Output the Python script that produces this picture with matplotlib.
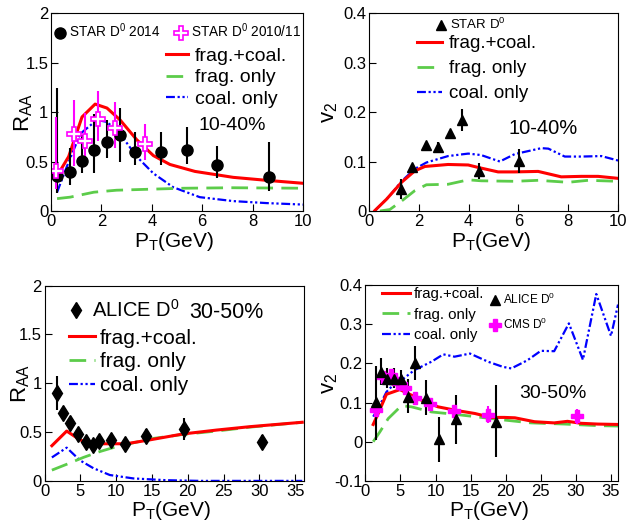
import numpy as np
import matplotlib
matplotlib.use("Agg")
import matplotlib.pyplot as plt
from matplotlib.ticker import FuncFormatter

plt.rcParams['font.family'] = ['Liberation Sans', 'DejaVu Sans']
plt.rcParams['mathtext.fontset'] = 'custom'
plt.rcParams['mathtext.rm'] = 'Liberation Sans'
plt.rcParams['mathtext.default'] = 'regular'

RED = '#ff0000'
GREEN = '#5ccc4a'
BLUE = '#0000ff'
MAG = '#ff00ff'

# ---- top left: RAA, 10-40% (STAR) ----
star14_pt = [0.24, 0.74, 1.23, 1.72, 2.22, 2.72, 3.35, 4.35, 5.38, 6.57, 8.65]
star14_r = [0.35, 0.39, 0.51, 0.62, 0.70, 0.77, 0.60, 0.60, 0.62, 0.46, 0.34]
star14_hi = [1.24, 0.64, 0.77, 0.98, 0.92, 1.04, 0.80, 0.80, 0.85, 0.66, 0.70]
star14_lo = [0.18, 0.26, 0.38, 0.38, 0.54, 0.50, 0.46, 0.46, 0.47, 0.33, 0.20]

star11_pt = [0.21, 0.92, 1.33, 1.85, 2.52, 3.73]
star11_r = [0.40, 0.78, 0.71, 0.93, 0.84, 0.68]
star11_hi = [0.95, 1.12, 0.99, 1.21, 1.10, 0.88]
star11_lo = [0.22, 0.45, 0.45, 0.71, 0.64, 0.52]

tl_red_pt = [0.24, 0.37, 0.70, 1.23, 1.75, 2.22, 2.74, 3.4, 4.06, 4.72, 5.71, 7.23, 8.55, 10]
tl_red = [0.38, 0.41, 0.55, 0.95, 1.08, 1.04, 0.92, 0.72, 0.56, 0.47, 0.40, 0.34, 0.31, 0.28]
tl_blue_pt = [0.24, 0.63, 1.16, 1.82, 2.22, 2.74, 3.4, 4.06, 4.85, 5.9, 7.23, 8.55, 10]
tl_blue = [0.19, 0.45, 0.78, 0.92, 0.90, 0.78, 0.55, 0.38, 0.24, 0.14, 0.10, 0.08, 0.065]
tl_green_pt = [0.24, 0.76, 1.7, 2.6, 3.9, 5.25, 7.2, 10]
tl_green = [0.125, 0.14, 0.19, 0.21, 0.22, 0.23, 0.235, 0.23]

# ---- top right: v2, 10-40% (STAR) ----
stv2_pt = [1.27, 1.74, 2.28, 2.77, 3.25, 3.75, 4.42, 6.02]
stv2 = [0.044, 0.088, 0.134, 0.130, 0.157, 0.184, 0.080, 0.101]
stv2_err = [0.020, 0.006, 0.005, 0.009, 0.005, 0.022, 0.016, 0.025]

tr_red_pt = [0.23, 0.7, 1.3, 1.83, 2.24, 3.17, 3.98, 4.38, 5.18, 5.85, 6.79, 7.72, 8.53, 9.2, 10]
tr_red = [0.001, 0.024, 0.058, 0.081, 0.090, 0.094, 0.093, 0.088, 0.079, 0.079, 0.080, 0.069, 0.070, 0.070, 0.066]
tr_blue_pt = [0.23, 0.76, 1.3, 1.83, 2.3, 3.17, 3.98, 4.5, 5.25, 5.85, 6.92, 7.2, 7.86, 8.53, 9.33, 10]
tr_blue = [0.001, 0.027, 0.060, 0.085, 0.098, 0.111, 0.116, 0.113, 0.100, 0.115, 0.127, 0.126, 0.110, 0.110, 0.111, 0.102]
tr_green_pt = [0.43, 0.83, 1.3, 1.83, 2.3, 3.17, 3.98, 4.5, 5.85, 6.79, 7.99, 8.8, 10]
tr_green = [0.0, 0.003, 0.020, 0.041, 0.053, 0.054, 0.063, 0.061, 0.060, 0.062, 0.058, 0.062, 0.060]

# ---- bottom left: RAA, 30-50% (ALICE) ----
alr_pt = [1.7, 2.6, 3.6, 4.7, 5.7, 6.7, 7.6, 9.3, 11.2, 14.2, 19.5, 30.4]
alr = [0.90, 0.69, 0.59, 0.48, 0.40, 0.37, 0.41, 0.42, 0.38, 0.46, 0.53, 0.40]
alr_err = [0.17, 0.05, 0.03, 0.03, 0.04, 0.04, 0.05, 0.05, 0.04, 0.07, 0.11, 0.07]

bl_red_pt = [1.0, 3.07, 4.93, 6.33, 9.1, 11.4, 14.7, 19.3, 24, 28.7, 36]
bl_red = [0.36, 0.51, 0.42, 0.38, 0.38, 0.38, 0.42, 0.48, 0.52, 0.555, 0.60]
bl_blue_pt = [1.0, 3.07, 4.93, 6.8, 9.1, 12.4, 17, 21.7, 36]
bl_blue = [0.24, 0.34, 0.21, 0.13, 0.06, 0.025, 0.007, 0.0, 0.0]
bl_green_pt = [1.0, 3.07, 5.4, 7.7, 10, 12.4, 15.2, 19.3, 24, 28.7, 36]
bl_green = [0.11, 0.17, 0.24, 0.30, 0.35, 0.39, 0.435, 0.475, 0.51, 0.55, 0.60]

# ---- bottom right: v2, 30-50% (ALICE, CMS) ----
alv_pt = [1.45, 2.16, 3.1, 4.05, 5.05, 6.09, 7.03, 8.6, 10.5, 12.96, 18.6]
alv = [0.102, 0.177, 0.159, 0.160, 0.160, 0.113, 0.201, 0.112, 0.008, 0.059, 0.051]
alv_hi = [0.193, 0.213, 0.187, 0.187, 0.184, 0.159, 0.244, 0.157, 0.064, 0.119, 0.144]
alv_lo = [0.004, 0.144, 0.136, 0.136, 0.140, 0.072, 0.157, 0.068, -0.051, -0.006, -0.040]

cms_pt = [1.45, 2.5, 3.6, 4.67, 5.6, 7.03, 9.17, 12.6, 17.5, 30.2]
cms = [0.081, 0.164, 0.170, 0.151, 0.136, 0.112, 0.095, 0.079, 0.069, 0.065]
cms_err = [0.019, 0.010, 0.012, 0.010, 0.010, 0.008, 0.007, 0.008, 0.021, 0.019]

br_red_pt = [1.11, 1.82, 3.0, 4.9, 6.1, 8.0, 10.35, 13.2, 15.6, 17.9, 19.8, 21.3, 24.1, 26.9, 28.8, 30.7, 33.1, 36]
br_red = [0.044, 0.072, 0.121, 0.133, 0.123, 0.106, 0.089, 0.079, 0.072, 0.062, 0.062, 0.061, 0.051, 0.048, 0.052, 0.047, 0.045, 0.044]
br_green_pt = [1.11, 2.06, 3.25, 5.14, 6.56, 9.4, 12.7, 15.6, 18.9, 23.6, 28.4, 33.1, 36]
br_green = [0.0, 0.025, 0.059, 0.092, 0.089, 0.076, 0.070, 0.064, 0.057, 0.048, 0.045, 0.041, 0.040]
br_blue_pt = [1.11, 1.82, 3.0, 4.2, 5.14, 7.0, 9.4, 11.1, 12.7, 14.9, 17.5, 19.6, 20.8, 23.1, 25.0, 26.9, 29.0, 31.0, 32.9, 35.0, 36]
br_blue = [0.064, 0.085, 0.127, 0.149, 0.157, 0.183, 0.204, 0.223, 0.217, 0.225, 0.204, 0.191, 0.187, 0.208, 0.232, 0.231, 0.302, 0.209, 0.377, 0.270, 0.350]

line_labels = ['frag.+coal.', 'frag. only', 'coal. only']
blue_dash = (4, 1.2, 1, 1.2, 1, 1.2)
green_dash = (6, 3)


def style(ax, xlim, ylim, xticks, yticks, ylab, ylab_x, xlab_x):
    ax.set_xlim(xlim)
    ax.set_ylim(ylim)
    ax.set_xticks(xticks)
    ax.set_yticks(yticks)
    fmt = FuncFormatter(lambda v, p: '%g' % round(v, 3))
    ax.xaxis.set_major_formatter(fmt)
    ax.yaxis.set_major_formatter(fmt)
    ax.tick_params(direction='in', length=5, width=0.8, labelsize=12, pad=2)
    ax.set_xlabel(r'$P_T$(GeV)', fontsize=15)
    ax.set_ylabel(ylab, fontsize=16)
    ax.xaxis.set_label_coords(xlab_x, -0.095)
    ax.yaxis.set_label_coords(ylab_x, 0.5)
    for s in ax.spines.values():
        s.set_linewidth(0.8)


def curves(ax, red, green, blue, lw=2.2):
    hb, = ax.plot(blue[0], blue[1], color=BLUE, lw=1.6, dashes=blue_dash)
    hg, = ax.plot(green[0], green[1], color=GREEN, lw=2.0, dashes=green_dash)
    hr, = ax.plot(red[0], red[1], color=RED, lw=lw)
    return hr, hg, hb


def line_legend(ax, handles, x, y, fs, hl, tp, ls):
    ax.legend(handles, line_labels, loc='upper left', bbox_to_anchor=(x, y),
              frameon=False, fontsize=fs, handlelength=hl, handletextpad=tp,
              labelspacing=ls, borderaxespad=0, borderpad=0)


fig = plt.figure(figsize=(6.3, 5.21), dpi=100)
ax1 = fig.add_axes([0.081, 0.595, 0.400, 0.380])
ax2 = fig.add_axes([0.586, 0.595, 0.395, 0.380])
ax3 = fig.add_axes([0.071, 0.077, 0.411, 0.375])
ax4 = fig.add_axes([0.580, 0.077, 0.401, 0.376])

# top left
style(ax1, (0, 10), (0, 2), [0, 2, 4, 6, 8, 10], [0, 0.5, 1, 1.5, 2], r'$R_{AA}$', -0.063, 0.487)
h = curves(ax1, (tl_red_pt, tl_red), (tl_green_pt, tl_green), (tl_blue_pt, tl_blue))
e1 = ax1.errorbar(star14_pt, star14_r,
                  yerr=[np.subtract(star14_r, star14_lo), np.subtract(star14_hi, star14_r)],
                  fmt='o', color='black', ms=8, elinewidth=1.5, capsize=0)
e2 = ax1.errorbar(star11_pt, star11_r,
                  yerr=[np.subtract(star11_r, star11_lo), np.subtract(star11_hi, star11_r)],
                  fmt='P', mfc='white', mec=MAG, ecolor=MAG, ms=10, mew=1.2,
                  elinewidth=1.5, capsize=0)
lg = ax1.legend([e1[0], e2[0]], ['STAR D$^0$ 2014', 'STAR D$^0$ 2010/11'], ncol=2,
                loc='upper left', bbox_to_anchor=(0.008, 0.956), frameon=False,
                fontsize=9.8, handlelength=1.0, handletextpad=0.2, columnspacing=1.0,
                borderaxespad=0, borderpad=0)
ax1.add_artist(lg)
line_legend(ax1, h, 0.456, 0.827, 14, 1.15, 0.35, 0.2)
ax1.text(0.585, 0.43, '10-40%', transform=ax1.transAxes, fontsize=14, va='center')

# top right
style(ax2, (0, 10), (0, 0.4), [0, 2, 4, 6, 8, 10], [0, 0.1, 0.2, 0.3, 0.4], r'$v_2$', -0.116, 0.49)
h = curves(ax2, (tr_red_pt, tr_red), (tr_green_pt, tr_green), (tr_blue_pt, tr_blue))
e1 = ax2.errorbar(stv2_pt, stv2, yerr=stv2_err, fmt='^', color='black', ms=7,
                  elinewidth=1.5, capsize=0)
lg = ax2.legend([e1[0]], ['STAR D$^0$'], loc='upper left', bbox_to_anchor=(0.263, 0.98),
                frameon=False, fontsize=9.5, handlelength=1.0, handletextpad=0.18,
                borderaxespad=0, borderpad=0)
ax2.add_artist(lg)
line_legend(ax2, h, 0.193, 0.889, 13.5, 1.3, 0.4, 0.42)
ax2.text(0.56, 0.415, '10-40%', transform=ax2.transAxes, fontsize=14.5, va='center')

# bottom left
style(ax3, (0, 36.2), (0, 2), [0, 5, 10, 15, 20, 25, 30, 35], [0, 0.5, 1, 1.5, 2],
      r'$R_{AA}$', -0.049, 0.487)
h = curves(ax3, (bl_red_pt, bl_red), (bl_green_pt, bl_green), (bl_blue_pt, bl_blue))
e1 = ax3.errorbar(alr_pt, alr, yerr=alr_err, fmt='d', color='black', ms=8,
                  elinewidth=1.5, capsize=0)
lg = ax3.legend([e1[0]], ['ALICE D$^0$'], loc='upper left', bbox_to_anchor=(0.082, 0.929),
                frameon=False, fontsize=14.5, handlelength=1.0, handletextpad=0.28,
                borderaxespad=0, borderpad=0)
ax3.add_artist(lg)
line_legend(ax3, h, 0.094, 0.779, 15, 1.25, 0.24, 0.23)
ax3.text(0.56, 0.863, '30-50%', transform=ax3.transAxes, fontsize=15.5, va='center')

# bottom right
style(ax4, (0, 36), (-0.1, 0.4), [0, 5, 10, 15, 20, 25, 30, 35],
      [-0.1, 0, 0.1, 0.2, 0.3, 0.4], r'$v_2$', -0.101, 0.489)
h = curves(ax4, (br_red_pt, br_red), (br_green_pt, br_green), (br_blue_pt, br_blue))
e2 = ax4.errorbar(cms_pt, cms, yerr=cms_err, fmt='P', color=MAG, ms=9,
                  elinewidth=1.5, capsize=0)
e1 = ax4.errorbar(alv_pt, alv, yerr=[np.subtract(alv, alv_lo), np.subtract(alv_hi, alv)],
                  fmt='^', color='black', ms=7, elinewidth=1.5, capsize=0)
lg = ax4.legend([e1[0], e2[0]], ['ALICE D$^0$', 'CMS D$^0$'], loc='upper left',
                bbox_to_anchor=(0.491, 0.967), frameon=False, fontsize=8.5,
                handlelength=1.0, handletextpad=0.16, labelspacing=0.9,
                borderaxespad=0, borderpad=0)
ax4.add_artist(lg)
line_legend(ax4, h, 0.064, 0.99, 10.8, 1.87, 0.29, 0.45)
ax4.text(0.61, 0.446, '30-50%', transform=ax4.transAxes, fontsize=14, va='center')

fig.savefig('out.png', dpi=100)
